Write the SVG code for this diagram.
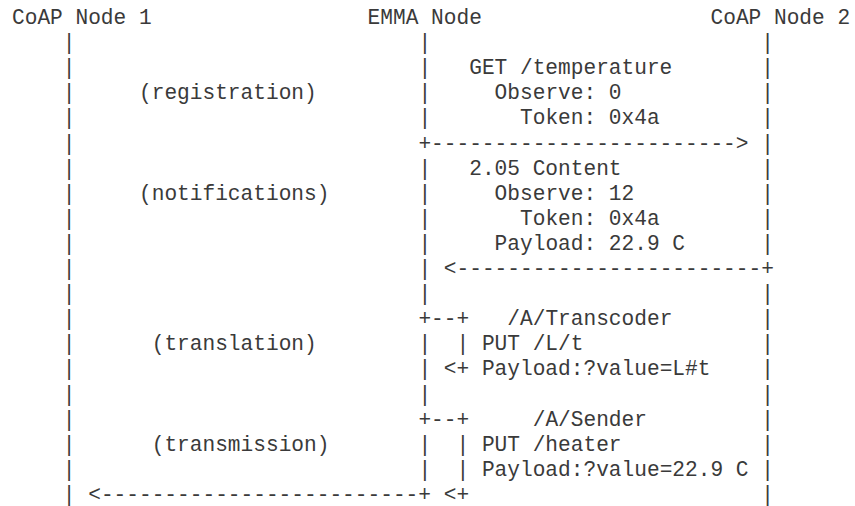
<svg xmlns="http://www.w3.org/2000/svg" width="855" height="506" viewBox="0 0 855 506">
<style>
text { font-family: "Courier New", "Liberation Mono", monospace; font-size: 21.17px; fill: #3a3a3a; white-space: pre; }
.l { fill: #666; }
</style>
<rect width="855" height="506" fill="#fff"/>
<g id="node-coap1"><text x="12" y="24">CoAP Node 1</text></g>
<g id="node-emma"><text x="367.6" y="24">EMMA Node</text></g>
<g id="node-coap2"><text x="710.5" y="24">CoAP Node 2</text></g>
<g id="connectors">
<g id="lifeline-coap1" class="l">
<text x="62.8" y="49.1">|</text><text x="62.8" y="74.2">|</text><text x="62.8" y="99.3">|</text><text x="62.8" y="124.4">|</text><text x="62.8" y="149.5">|</text><text x="62.8" y="174.6">|</text><text x="62.8" y="199.7">|</text><text x="62.8" y="224.8">|</text><text x="62.8" y="249.9">|</text><text x="62.8" y="275">|</text><text x="62.8" y="300.1">|</text><text x="62.8" y="325.2">|</text><text x="62.8" y="350.3">|</text><text x="62.8" y="375.4">|</text><text x="62.8" y="400.5">|</text><text x="62.8" y="425.6">|</text><text x="62.8" y="450.7">|</text><text x="62.8" y="475.8">|</text><text x="62.8" y="500.9">|</text>
</g>
<g id="lifeline-emma" class="l">
<text x="418.4" y="49.1">|</text><text x="418.4" y="74.2">|</text><text x="418.4" y="99.3">|</text><text x="418.4" y="124.4">|</text><text x="418.4" y="174.6">|</text><text x="418.4" y="199.7">|</text><text x="418.4" y="224.8">|</text><text x="418.4" y="249.9">|</text><text x="418.4" y="275">|</text><text x="418.4" y="300.1">|</text><text x="418.4" y="350.3">|</text><text x="418.4" y="375.4">|</text><text x="418.4" y="400.5">|</text><text x="418.4" y="450.7">|</text><text x="418.4" y="475.8">|</text>
<text x="456.5" y="350.3">|</text><text x="456.5" y="450.7">|</text><text x="456.5" y="475.8">|</text>
</g>
<g id="lifeline-coap2" class="l">
<text x="761.3" y="49.1">|</text><text x="761.3" y="74.2">|</text><text x="761.3" y="99.3">|</text><text x="761.3" y="124.4">|</text><text x="761.3" y="149.5">|</text><text x="761.3" y="174.6">|</text><text x="761.3" y="199.7">|</text><text x="761.3" y="224.8">|</text><text x="761.3" y="249.9">|</text><text x="761.3" y="300.1">|</text><text x="761.3" y="325.2">|</text><text x="761.3" y="350.3">|</text><text x="761.3" y="375.4">|</text><text x="761.3" y="400.5">|</text><text x="761.3" y="425.6">|</text><text x="761.3" y="450.7">|</text><text x="761.3" y="475.8">|</text><text x="761.3" y="500.9">|</text>
</g>
<g id="arrows">
<text x="418.4" y="149.5">+------------------------&gt;</text>
<text x="443.8" y="275">&lt;------------------------+</text>
<text x="418.4" y="325.2">+--+</text>
<text x="443.8" y="375.4">&lt;+</text>
<text x="418.4" y="425.6">+--+</text>
<text x="88.2" y="500.9">&lt;-------------------------+</text>
<text x="443.8" y="500.9">&lt;+</text>
</g>
</g>
<g id="labels">
<text x="469.2" y="74.2">GET /temperature</text>
<text x="139" y="99.3">(registration)</text>
<text x="494.6" y="99.3">Observe: 0</text>
<text x="520" y="124.4">Token: 0x4a</text>
<text x="469.2" y="174.6">2.05 Content</text>
<text x="139" y="199.7">(notifications)</text>
<text x="494.6" y="199.7">Observe: 12</text>
<text x="520" y="224.8">Token: 0x4a</text>
<text x="494.6" y="249.9">Payload: 22.9 C</text>
<text x="507.3" y="325.2">/A/Transcoder</text>
<text x="151.7" y="350.3">(translation)</text>
<text x="481.9" y="350.3">PUT /L/t</text>
<text x="481.9" y="375.4">Payload:?value=L#t</text>
<text x="532.7" y="425.6">/A/Sender</text>
<text x="151.7" y="450.7">(transmission)</text>
<text x="481.9" y="450.7">PUT /heater</text>
<text x="481.9" y="475.8">Payload:?value=22.9 C</text>
</g>
</svg>
